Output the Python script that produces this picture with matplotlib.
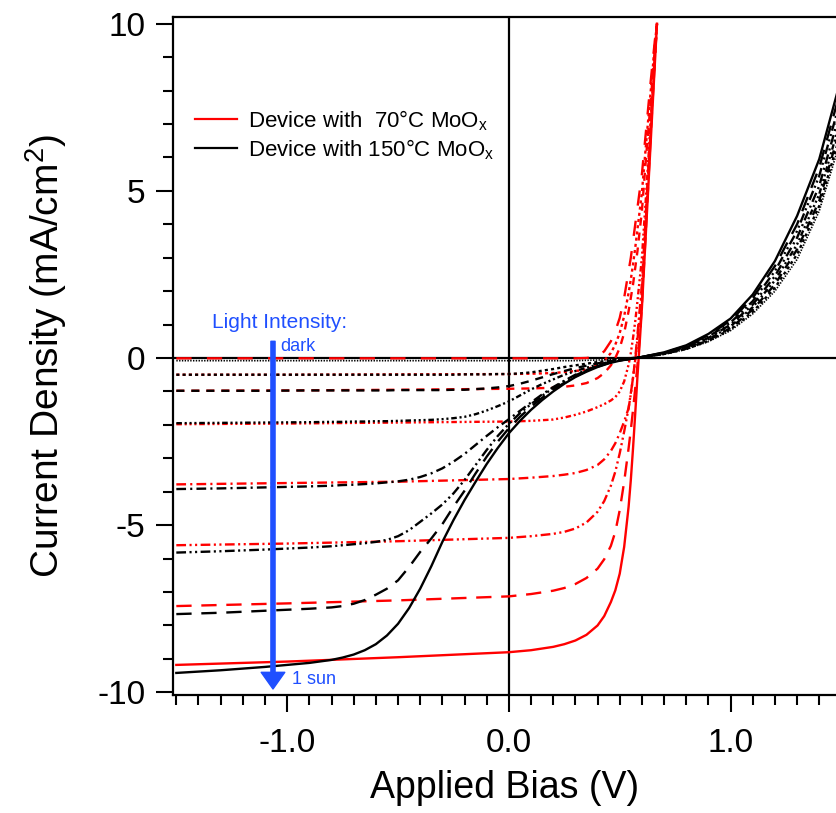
import matplotlib
matplotlib.use("Agg")
import matplotlib.pyplot as plt
from matplotlib.ticker import MultipleLocator, FormatStrFormatter

plt.rcParams['font.family'] = ['Liberation Sans', 'DejaVu Sans']
plt.rcParams['mathtext.fontset'] = 'custom'
plt.rcParams['mathtext.rm'] = 'Liberation Sans'
plt.rcParams['mathtext.it'] = 'Liberation Sans:italic'
plt.rcParams['axes.unicode_minus'] = False
plt.rcParams['lines.scale_dashes'] = False

# --- data ---
# 70 C MoOx device (red): bias grid and current density per light level
v70 = [-1.5, -1.0, -0.5, 0.0, 0.1, 0.2, 0.25, 0.3, 0.35, 0.4, 0.43, 0.46, 0.48,
       0.5, 0.52, 0.54, 0.55, 0.56, 0.57, 0.58, 0.59, 0.6, 0.62, 0.64, 0.66, 0.668]
j70_dark = [-0.01, -0.01, -0.01, -0.01, -0.01, -0.01, -0.01, -0.01, 0.0, 0.05,
            0.2, 0.5, 0.8, 1.2, 1.8, 2.6, 3.0, 3.5, 4.0, 4.5, 5.0, 5.5, 6.9,
            8.3, 9.6, 10.0]
j70_i1 = [-0.5, -0.5, -0.49, -0.48, -0.47, -0.45, -0.42, -0.39, -0.34, -0.22,
          -0.08, 0.15, 0.4, 0.75, 1.25, 1.95, 2.35, 2.8, 3.3, 3.85, 4.4, 4.95,
          6.5, 8.0, 9.5, 10.0]
j70_i2 = [-0.98, -0.97, -0.95, -0.92, -0.91, -0.89, -0.86, -0.82, -0.75, -0.6,
          -0.45, -0.22, 0.0, 0.3, 0.75, 1.4, 1.8, 2.2, 2.7, 3.2, 3.8, 4.4, 6.1,
          7.7, 9.4, 10.0]
j70_i3 = [-1.98, -1.96, -1.93, -1.9, -1.88, -1.84, -1.78, -1.7, -1.6, -1.47,
          -1.38, -1.27, -1.17, -1.0, -0.7, -0.2, 0.15, 0.6, 1.1, 1.7, 2.35, 3.0,
          5.0, 7.1, 9.2, 10.0]
j70_i4 = [-3.78, -3.74, -3.7, -3.62, -3.58, -3.53, -3.49, -3.44, -3.35, -3.2,
          -3.03, -2.78, -2.55, -2.25, -1.9, -1.5, -1.05, -0.6, 0.0, 0.7, 1.45,
          2.2, 4.6, 7.0, 9.3, 10.0]
j70_i5 = [-5.6, -5.55, -5.48, -5.38, -5.33, -5.26, -5.2, -5.1, -4.92, -4.6,
          -4.28, -3.82, -3.4, -2.85, -2.2, -1.5, -1.08, -0.58, -0.05, 0.55,
          1.25, 2.0, 4.4, 6.9, 9.2, 10.0]
j70_i6 = [-7.42, -7.34, -7.25, -7.13, -7.06, -6.96, -6.88, -6.76, -6.58, -6.3,
          -6.02, -5.62, -5.2, -4.55, -3.7, -2.7, -2.15, -1.55, -0.9, -0.2, 0.6,
          1.6, 4.1, 6.7, 9.1, 10.0]
j70_sun = [-9.18, -9.08, -8.95, -8.8, -8.74, -8.64, -8.56, -8.45, -8.28, -8.0,
           -7.72, -7.3, -6.95, -6.45, -5.65, -4.45, -3.65, -2.7, -1.65, -0.55,
           0.45, 1.5, 4.0, 6.5, 9.0, 10.0]

# 150 C MoOx device (black)
v150 = [-1.5, -1.3, -1.1, -0.9, -0.8, -0.75, -0.7, -0.65, -0.6, -0.55, -0.5,
        -0.45, -0.4, -0.35, -0.3, -0.25, -0.2, -0.15, -0.1, -0.05, 0.0, 0.05,
        0.1, 0.15, 0.2, 0.25, 0.3, 0.35, 0.4, 0.45, 0.5, 0.6, 0.7, 0.8, 0.9,
        1.0, 1.1, 1.2, 1.3, 1.4, 1.5]
j150_dark = [-0.08, -0.08, -0.08, -0.08, -0.08, -0.08, -0.08, -0.08, -0.08,
             -0.08, -0.08, -0.08, -0.08, -0.08, -0.08, -0.08, -0.08, -0.08,
             -0.08, -0.08, -0.08, -0.08, -0.08, -0.08, -0.08, -0.08, -0.08,
             -0.07, -0.06, -0.05, -0.03, 0.02, 0.11, 0.26, 0.49, 0.82, 1.32,
             2.0, 2.95, 4.4, 6.6]
j150_i1 = [-0.5, -0.5, -0.5, -0.5, -0.5, -0.5, -0.5, -0.5, -0.5, -0.5, -0.5,
           -0.5, -0.5, -0.5, -0.5, -0.5, -0.49, -0.49, -0.49, -0.48, -0.48,
           -0.46, -0.43, -0.38, -0.33, -0.27, -0.22, -0.17, -0.12, -0.08,
           -0.04, 0.03, 0.12, 0.27, 0.51, 0.86, 1.38, 2.1, 3.1, 4.55, 6.8]
j150_i2 = [-0.98, -0.98, -0.98, -0.97, -0.97, -0.97, -0.97, -0.97, -0.97,
           -0.97, -0.96, -0.96, -0.96, -0.96, -0.96, -0.95, -0.95, -0.93,
           -0.91, -0.88, -0.84, -0.77, -0.68, -0.58, -0.48, -0.39, -0.3,
           -0.23, -0.16, -0.1, -0.05, 0.03, 0.12, 0.28, 0.53, 0.9, 1.45, 2.2,
           3.25, 4.7, 7.0]
j150_i3 = [-1.95, -1.94, -1.93, -1.92, -1.91, -1.91, -1.9, -1.9, -1.89, -1.89,
           -1.88, -1.87, -1.86, -1.85, -1.83, -1.8, -1.76, -1.68, -1.57, -1.44,
           -1.3, -1.12, -0.94, -0.78, -0.64, -0.5, -0.39, -0.29, -0.2, -0.12,
           -0.06, 0.03, 0.13, 0.3, 0.56, 0.95, 1.52, 2.32, 3.4, 4.9, 7.2]
j150_i4 = [-3.92, -3.9, -3.87, -3.84, -3.82, -3.8, -3.79, -3.77, -3.75, -3.72,
           -3.69, -3.64, -3.56, -3.45, -3.3, -3.1, -2.87, -2.6, -2.33, -2.07,
           -1.83, -1.58, -1.33, -1.09, -0.87, -0.68, -0.5, -0.36, -0.24, -0.14,
           -0.07, 0.03, 0.14, 0.32, 0.6, 1.0, 1.6, 2.45, 3.6, 5.15, 7.5]
j150_i5 = [-5.82, -5.78, -5.73, -5.67, -5.63, -5.6, -5.57, -5.54, -5.5, -5.44,
           -5.33, -5.15, -4.9, -4.65, -4.38, -4.05, -3.65, -3.2, -2.75, -2.33,
           -1.97, -1.65, -1.38, -1.13, -0.9, -0.7, -0.52, -0.37, -0.25, -0.14,
           -0.07, 0.03, 0.15, 0.34, 0.64, 1.06, 1.7, 2.6, 3.8, 5.45, 7.8]
j150_i6 = [-7.66, -7.62, -7.56, -7.5, -7.46, -7.42, -7.35, -7.24, -7.08, -6.9,
           -6.65, -6.25, -5.8, -5.4, -4.97, -4.45, -3.97, -3.45, -2.95, -2.5,
           -2.1, -1.76, -1.46, -1.19, -0.95, -0.74, -0.55, -0.39, -0.26, -0.15,
           -0.07, 0.03, 0.16, 0.36, 0.68, 1.12, 1.8, 2.75, 4.0, 5.7, 8.1]
j150_sun = [-9.42, -9.34, -9.24, -9.12, -9.03, -8.96, -8.87, -8.74, -8.56,
            -8.3, -7.95, -7.48, -6.9, -6.23, -5.5, -4.85, -4.25, -3.7, -3.17,
            -2.69, -2.25, -1.88, -1.55, -1.26, -1.0, -0.77, -0.57, -0.41,
            -0.27, -0.16, -0.08, 0.03, 0.17, 0.38, 0.72, 1.18, 1.9, 2.9, 4.25,
            5.95, 8.4]

curves70 = [j70_dark, j70_i1, j70_i2, j70_i3, j70_i4, j70_i5, j70_i6, j70_sun]
curves150 = [j150_dark, j150_i1, j150_i2, j150_i3, j150_i4, j150_i5, j150_i6, j150_sun]

# line style for each light level (same for both devices, except dark)
styles = [None,
          (0, (2.2, 2.3)),
          (0, (5.8, 5.0)),
          (0, (4.0, 2.0, 1.5, 2.0, 1.5, 2.0, 1.5, 2.0)),
          (0, (7.0, 3.0, 1.5, 3.0)),
          (0, (7.0, 2.5, 1.5, 2.5, 1.5, 2.5)),
          (0, (11.0, 7.0)),
          '-']

red = '#ff0000'
blue = '#1f4fff'

fig = plt.figure(figsize=(8.37, 8.13), dpi=100)
ax = fig.add_axes([173 / 837, 1 - 695 / 813, 664 / 837, 678 / 813])

# zero lines
ax.axhline(0, color='black', lw=1.6, zorder=1)
ax.axvline(0, color='black', lw=1.6, zorder=1)

for i, j in enumerate(curves70):
    ls = (0, (11, 11)) if i == 0 else styles[i]
    ax.plot(v70, j, color=red, lw=1.7, linestyle=ls, zorder=2)

for i, j in enumerate(curves150):
    if i == 0:
        ax.plot(v150, j, color='black', lw=1.2, linestyle=(0, (1, 1)), zorder=3)
    else:
        ax.plot(v150, j, color='black', lw=1.7, linestyle=styles[i], zorder=3)

# legend handles
ax.plot([], [], color=red, lw=1.6, label='Device with  70\u00b0C MoO$_\\mathrm{x}$')
ax.plot([], [], color='black', lw=1.6, label='Device with 150\u00b0C MoO$_\\mathrm{x}$')
ax.legend(loc='upper left', bbox_to_anchor=(0.003, 0.895), frameon=False,
          fontsize=16, handlelength=1.9, handletextpad=0.5, labelspacing=0.2)

# light intensity arrow
ax.annotate('', xy=(-1.064, -9.9), xytext=(-1.064, 0.5),
            arrowprops=dict(facecolor=blue, edgecolor=blue, width=3,
                            headwidth=17, headlength=12, shrink=0))
ax.text(-1.34, 1.05, 'Light Intensity:', color=blue, fontsize=15, va='center')
ax.text(-1.03, 0.35, 'dark', color=blue, fontsize=13, va='center')
ax.text(-0.98, -9.63, '1 sun', color=blue, fontsize=13, va='center')

ax.set_xlim(-1.515, 1.48)
ax.set_ylim(-10.08, 10.2)

ax.xaxis.set_major_locator(MultipleLocator(1.0))
ax.xaxis.set_minor_locator(MultipleLocator(0.1))
ax.xaxis.set_major_formatter(FormatStrFormatter('%.1f'))
ax.yaxis.set_major_locator(MultipleLocator(5))
ax.yaxis.set_minor_locator(MultipleLocator(1))

ax.tick_params(which='major', length=12, width=1.5, labelsize=24, pad=8)
ax.tick_params(axis='x', which='major', pad=12)
ax.tick_params(which='minor', length=7, width=1.5)
ax.tick_params(axis='x', which='both', top=False)

for side in ['left', 'bottom', 'top']:
    ax.spines[side].set_linewidth(1.6)
ax.spines['right'].set_visible(False)

ax.set_xlabel('Applied Bias (V)', fontsize=27, labelpad=8)
ax.set_ylabel('Current Density (mA/cm$^{2}$)', fontsize=28, labelpad=20)

fig.savefig('out.png', dpi=100)
